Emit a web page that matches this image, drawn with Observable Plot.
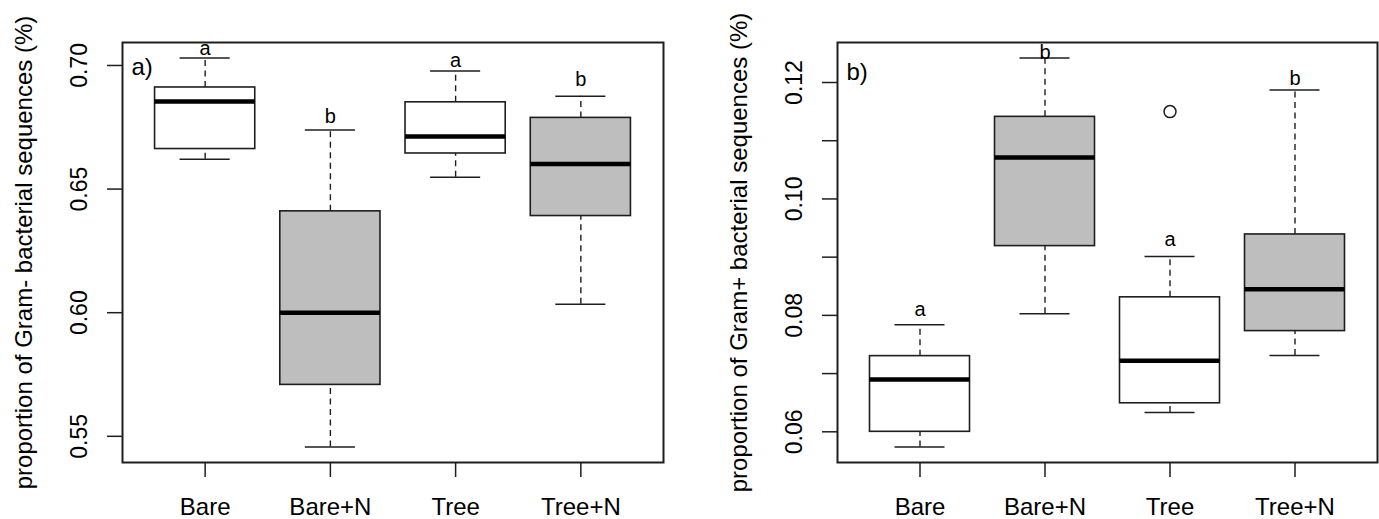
<!DOCTYPE html>
<html>
<head>
<meta charset="utf-8">
<script src="https://cdn.jsdelivr.net/npm/d3@7"></script>
<script src="https://cdn.jsdelivr.net/npm/@observablehq/plot@0.6"></script>
<style>
  html, body { margin: 0; padding: 0; background: #fff; }
  #wrap { display: flex; flex-direction: row; width: 1379px; height: 519px; }
  svg { font-family: "Liberation Sans", Arial, Helvetica, sans-serif; }
</style>
</head>
<body>
<div id="wrap"></div>
<script>
// ---------- data ----------
const categories = ["Bare", "Bare+N", "Tree", "Tree+N"];
const nitrogen = [false, true, false, true];

// a) Gram- bacteria
const negLower  = [0.6621, 0.5457, 0.6548, 0.6034];
const negQ1     = [0.6662, 0.5708, 0.6644, 0.6391];
const negMedian = [0.6854, 0.6000, 0.6713, 0.6601];
const negQ3     = [0.6911, 0.6410, 0.6851, 0.6788];
const negUpper  = [0.7030, 0.6739, 0.6978, 0.6876];
const negOutlierCategory = [];
const negOutlierValue = [];
const negLetters = ["a", "b", "a", "b"];
const negLetterY = [0.7068, 0.6792, 0.7019, 0.6942];
const negTicks = [0.55, 0.60, 0.65, 0.70];
const negTickLabels = ["0.55", "0.60", "0.65", "0.70"];
const negTitle = "proportion of Gram- bacterial sequences (%)";

// b) Gram+ bacteria
const posLower  = [0.0574, 0.0803, 0.0633, 0.0731];
const posQ1     = [0.0600, 0.0919, 0.0649, 0.0773];
const posMedian = [0.0690, 0.1071, 0.0722, 0.0845];
const posQ3     = [0.0730, 0.1141, 0.0831, 0.0939];
const posUpper  = [0.0784, 0.1242, 0.0901, 0.1187];
const posOutlierCategory = ["Tree"];
const posOutlierValue = [0.1150];
const posLetters = ["a", "b", "a", "b"];
const posLetterY = [0.0810, 0.1252, 0.0930, 0.1207];
const posTicks = [0.06, 0.07, 0.08, 0.09, 0.10, 0.11, 0.12];
const posTickLabels = ["0.06", "", "0.08", "", "0.10", "", "0.12"];
const posTitle = "proportion of Gram+ bacterial sequences (%)";

// ---------- drawing ----------
const INK = "#1e1e1e";
const FONT = "Liberation Sans, Arial, Helvetica, sans-serif";

function panel(cfg) {
  const rows = categories.map((c, i) => ({
    cat: c, i: i + 1, n: nitrogen[i],
    lower: cfg.lower[i], q1: cfg.q1[i], median: cfg.median[i], q3: cfg.q3[i], upper: cfg.upper[i],
    letter: cfg.letters[i], letterY: cfg.letterY[i]
  }));
  const outliers = cfg.outCat.map((c, k) => ({ i: categories.indexOf(c) + 1, v: cfg.outVal[k] }));
  const lo = Math.min(...cfg.lower, ...cfg.outVal);
  const hi = Math.max(...cfg.upper, ...cfg.outVal);
  const pad = (hi - lo) * 0.04;
  const ticks = cfg.ticks.map((t, k) => ({ t, label: cfg.tickLabels[k] }));

  return Plot.plot({
    width: cfg.width,
    height: 519,
    marginLeft: cfg.marginLeft,
    marginRight: cfg.marginRight,
    marginTop: 42,
    marginBottom: 57,
    style: { fontFamily: FONT, color: INK, background: "white", overflow: "visible" },
    x: { type: "linear", domain: [0.34, 4.66] },
    y: { type: "linear", domain: [lo - pad, hi + pad] },
    marks: [
      // axes: tick lines only
      Plot.axisX({ ticks: [1, 2, 3, 4], tickSize: 15, tickFormat: () => "", stroke: INK, strokeWidth: 1.5, label: null }),
      Plot.axisY({ ticks: cfg.ticks, tickSize: 15, tickFormat: () => "", stroke: INK, strokeWidth: 1.5, label: null }),
      // x tick labels
      Plot.text(rows, { x: "i", text: "cat", frameAnchor: "bottom", dy: 45, lineAnchor: "middle", fontSize: 24, fill: "black" }),
      // y tick labels (rotated, parallel to axis)
      Plot.text(ticks, { y: "t", text: "label", frameAnchor: "left", dx: -43, rotate: -90, textAnchor: "middle", lineAnchor: "middle", fontSize: 23, fill: "black" }),
      // y axis title
      Plot.text([cfg.title], { frameAnchor: "left", dx: cfg.titleDx, rotate: -90, textAnchor: "middle", lineAnchor: "middle", fontSize: 24, fill: "black" }),
      // whiskers
      Plot.ruleX(rows, { x: "i", y1: "q3", y2: "upper", stroke: INK, strokeWidth: 1.4, strokeDasharray: "6,4.5" }),
      Plot.ruleX(rows, { x: "i", y1: "lower", y2: "q1", stroke: INK, strokeWidth: 1.4, strokeDasharray: "6,4.5" }),
      // staples
      Plot.ruleY(rows, { y: "upper", x1: d => d.i - 0.2, x2: d => d.i + 0.2, stroke: INK, strokeWidth: 1.5 }),
      Plot.ruleY(rows, { y: "lower", x1: d => d.i - 0.2, x2: d => d.i + 0.2, stroke: INK, strokeWidth: 1.5 }),
      // boxes
      Plot.rect(rows, { x1: d => d.i - 0.4, x2: d => d.i + 0.4, y1: "q1", y2: "q3",
        fill: d => d.n ? "#bebebe" : "white", stroke: INK, strokeWidth: 1.6 }),
      // medians
      Plot.ruleY(rows, { y: "median", x1: d => d.i - 0.4, x2: d => d.i + 0.4, stroke: "black", strokeWidth: 4.5 }),
      // outliers
      Plot.dot(outliers, { x: "i", y: "v", r: 6, stroke: INK, strokeWidth: 1.5, fill: "none" }),
      // significance letters
      Plot.text(rows, { x: "i", y: "letterY", text: "letter", fontSize: 20, lineAnchor: "middle", fill: "black" }),
      // panel label
      Plot.text([cfg.panelLabel], { frameAnchor: "top-left", dx: 9, dy: cfg.panelDy, textAnchor: "start", lineAnchor: "middle", fontSize: 24, fill: "black" }),
      // frame
      Plot.frame({ stroke: INK, strokeWidth: 2 })
    ]
  });
}

const wrap = document.getElementById("wrap");
wrap.appendChild(panel({
  width: 690, marginLeft: 122, marginRight: 27,
  lower: negLower, q1: negQ1, median: negMedian, q3: negQ3, upper: negUpper,
  outCat: negOutlierCategory, outVal: negOutlierValue,
  letters: negLetters, letterY: negLetterY,
  ticks: negTicks, tickLabels: negTickLabels,
  title: negTitle, titleDx: -98, panelLabel: "a)", panelDy: 25
}));
wrap.appendChild(panel({
  width: 689, marginLeft: 147, marginRight: 2,
  lower: posLower, q1: posQ1, median: posMedian, q3: posQ3, upper: posUpper,
  outCat: posOutlierCategory, outVal: posOutlierValue,
  letters: posLetters, letterY: posLetterY,
  ticks: posTicks, tickLabels: posTickLabels,
  title: posTitle, titleDx: -98, panelLabel: "b)", panelDy: 30
}));
</script>
</body>
</html>
